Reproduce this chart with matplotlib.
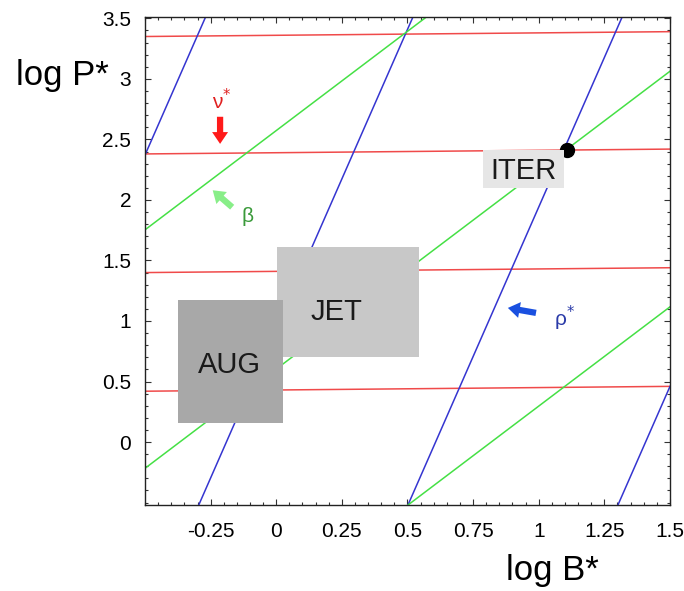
import numpy as np
import matplotlib
matplotlib.use("Agg")
import matplotlib.pyplot as plt
from matplotlib.patches import Rectangle
from matplotlib.ticker import MultipleLocator

plt.rcParams['font.family'] = ['Liberation Sans', 'DejaVu Sans']

# ---- data (log-scale dimensionless parameter lines) ----
nu_intercepts = [3.36, 2.39, 1.41, 0.43]      # constant nu* lines, y at x=0
nu_slope = 0.02
rho_x0 = [-0.98, -0.19, 0.607, 1.407]          # constant rho* lines, x at y=0
rho_slope = 4.94
beta_intercepts = [2.573, 0.603, -1.343]       # constant beta lines, y at x=0
beta_slope = 1.64

devices = ['JET', 'AUG']
dev_x = [(0.003, 0.544), (-0.374, 0.026)]
dev_y = [(0.703, 1.612), (0.158, 1.174)]
dev_label_pos = [(0.231, 1.075), (-0.18, 0.64)]
dev_colors = ['#c8c8c8', '#a8a8a8']

iter_point = (1.108, 2.414)
iter_label_box_x = (0.788, 1.096)
iter_label_box_y = (2.100, 2.414)

x_ticks = [-0.25, 0, 0.25, 0.5, 0.75, 1, 1.25, 1.5]
x_tick_labels = ['-0.25', '0', '0.25', '0.5', '0.75', '1', '1.25', '1.5']
y_ticks = [0, 0.5, 1, 1.5, 2, 2.5, 3, 3.5]
y_tick_labels = ['0', '0.5', '1', '1.5', '2', '2.5', '3', '3.5']

xlim = (-0.5, 1.5)
ylim = (-0.52, 3.51)

fig = plt.figure(figsize=(6.84, 5.91), dpi=100)
ax = fig.add_axes([0.212, 0.1455, 0.7675, 0.8255])
ax.set_xlim(*xlim)
ax.set_ylim(*ylim)

xs = np.linspace(xlim[0], xlim[1], 200)
red = '#f04a4a'
blue = '#3535d0'
green = '#45e045'
for c in nu_intercepts:
    ax.plot(xs, c + nu_slope * xs, color=red, lw=1.1, zorder=2)
for x0 in rho_x0:
    ax.plot(xs, rho_slope * (xs - x0), color=blue, lw=1.1, zorder=2)
for c in beta_intercepts:
    ax.plot(xs, c + beta_slope * xs, color=green, lw=1.1, zorder=2)

for name, (x0, x1), (y0, y1), (lx, ly), col in zip(devices, dev_x, dev_y,
                                                   dev_label_pos, dev_colors):
    ax.add_patch(Rectangle((x0, y0), x1 - x0, y1 - y0, facecolor=col,
                           edgecolor='none', zorder=4))
    ax.text(lx, ly, name, ha='center', va='center',
            fontsize=21, color='#1a1a1a', zorder=5)

# ITER
ax.plot([iter_point[0]], [iter_point[1]], 'o', color='black', ms=10, zorder=4)
bx0, bx1 = iter_label_box_x
by0, by1 = iter_label_box_y
ax.add_patch(Rectangle((bx0, by0), bx1 - bx0, by1 - by0, facecolor='#e6e6e6',
                       edgecolor='none', zorder=5))
ax.text((bx0 + bx1) / 2, (by0 + by1) / 2 - 0.02, 'ITER', ha='center', va='center',
        fontsize=21, color='#1a1a1a', zorder=6)

# arrows and labels
astyle = 'simple,head_width=1.15,head_length=0.85,tail_width=0.45'
ax.annotate('', xy=(-0.214, 2.44), xytext=(-0.214, 2.71),
            arrowprops=dict(arrowstyle=astyle, color='#ff1a1a', lw=0), zorder=6)
ax.text(-0.207, 2.82, 'ν$^{*}$', color='#e02020', fontsize=15, ha='center', va='center')

ax.annotate('', xy=(-0.250, 2.095), xytext=(-0.160, 1.925),
            arrowprops=dict(arrowstyle=astyle, color='#88ee88', lw=0), zorder=6)
ax.text(-0.108, 1.86, 'β', color='#3a9a3a', fontsize=15, ha='center', va='center')

ax.annotate('', xy=(0.872, 1.112), xytext=(1.0, 1.063),
            arrowprops=dict(arrowstyle=astyle, color='#1a50e0', lw=0), zorder=6)
ax.text(1.10, 1.025, 'ρ$^{*}$', color='#2a3aa8', fontsize=15, ha='center', va='center')

# axes styling
ax.set_xticks(x_ticks)
ax.set_xticklabels(x_tick_labels)
ax.set_yticks(y_ticks)
ax.set_yticklabels(y_tick_labels)
ax.xaxis.set_minor_locator(MultipleLocator(0.05))
ax.yaxis.set_minor_locator(MultipleLocator(0.1))
ax.tick_params(which='both', direction='in', top=True, right=True, width=0.8, color='#333333')
ax.tick_params(which='major', length=4)
ax.tick_params(which='minor', length=2.5)
ax.tick_params(axis='x', labelsize=15, pad=12)
ax.tick_params(axis='y', labelsize=15, pad=10)
for s in ax.spines.values():
    s.set_linewidth(1.0)
    s.set_color('#222222')

fig.text(0.091, 0.873, 'log P*', fontsize=25, ha='center', va='center')
fig.text(0.808, 0.034, 'log B*', fontsize=25, ha='center', va='center')

fig.savefig('out.png', dpi=100)
